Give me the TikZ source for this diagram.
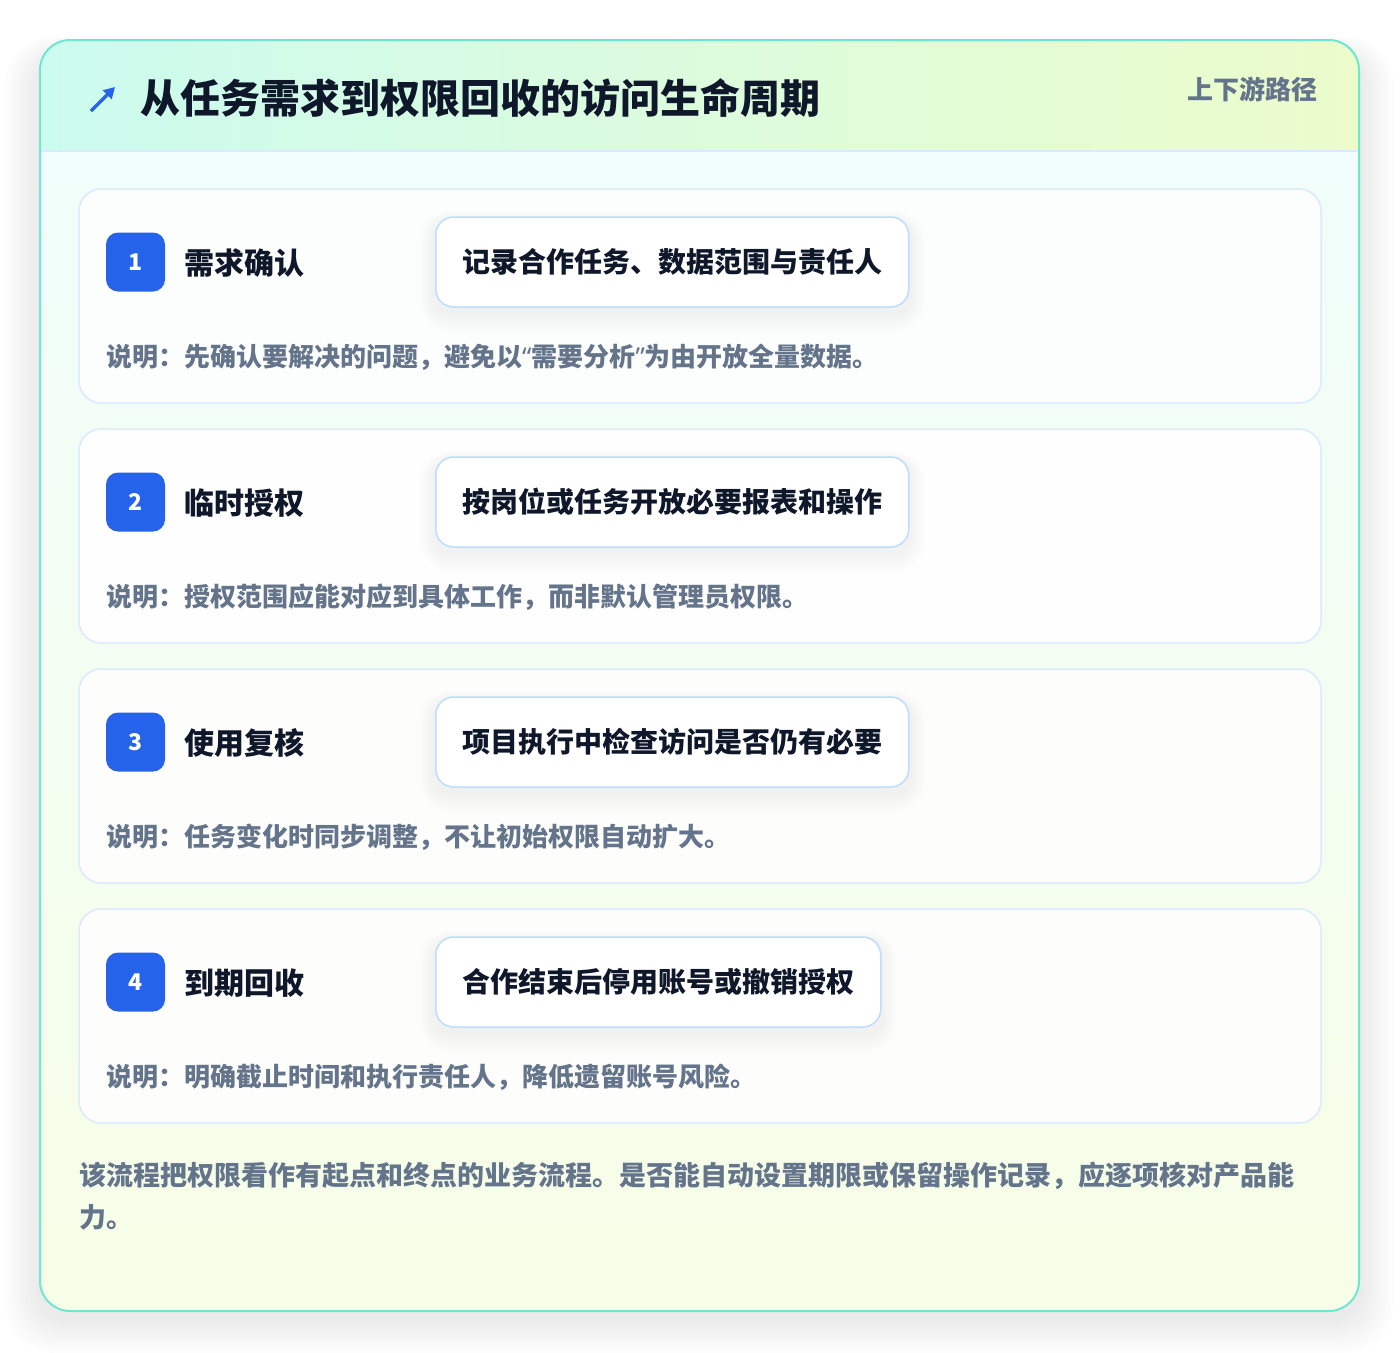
\documentclass[tikz,border=0pt]{standalone}
\usepackage{fontspec}
\setmainfont{Noto Sans CJK SC}
\newfontfamily\quotefont{Noto Sans}
\usetikzlibrary{positioning,arrows.meta}

\definecolor{ink}{HTML}{0F172A}
\definecolor{slate}{HTML}{64748B}
\definecolor{badgeblue}{HTML}{2563EB}
\definecolor{cardline}{HTML}{DBEAFE}
\definecolor{boxline}{HTML}{BFDBFE}
\definecolor{frameteal}{HTML}{6EE7D2}
\definecolor{headleft}{HTML}{CCFBEF}
\definecolor{headright}{HTML}{ECFCCB}
\definecolor{bodytop}{HTML}{F0FDFA}
\definecolor{bodybottom}{HTML}{F7FEE7}

\pgfdeclarelayer{frame}
\pgfdeclarelayer{shadow}
\pgfsetlayers{frame,shadow,main}

\tikzset{
  stepcard/.style={draw=cardline, line width=1.5pt, fill=white, fill opacity=0.85,
                   rounded corners=22pt},
  badge/.style={fill=badgeblue, rounded corners=12pt, minimum width=59pt,
                minimum height=59pt, inner sep=0pt, text=white,
                font=\bfseries\fontsize{23}{23}\selectfont},
  steptitle/.style={anchor=west, inner sep=0pt, text=ink,
                    font=\bfseries\fontsize{30}{30}\selectfont},
  actionbox/.style={draw=boxline, line width=1.5pt, fill=white, rounded corners=18pt,
                    minimum height=90pt, inner xsep=26.5pt, inner ysep=0pt, anchor=west,
                    text=ink, font=\bfseries\fontsize{28}{28}\selectfont},
  notetext/.style={anchor=west, inner sep=0pt, text=slate,
                   font=\bfseries\fontsize{26}{26}\selectfont},
}
\newcommand{\openq}{{\quotefont\bfseries “}}
\newcommand{\closeq}{{\quotefont\bfseries ”}}

\begin{document}
\begin{tikzpicture}[x=1pt, y=-1pt]
  \useasboundingbox (0,0) rectangle (1400,1352);

  \begin{pgfonlayer}{frame}
    \fill[white] (0,0) rectangle (1400,1352);
    % soft shadow under the frame
    \foreach \s in {1,...,10}
      \fill[black, opacity=0.008, rounded corners=30pt+\s*2pt]
        (40-\s*3.5, 56-\s*2) rectangle (1359+\s*3.5, 1318+\s*3.5);

    % frame with header band
    \begin{scope}
      \clip[rounded corners=30pt] (40,40) rectangle (1359,1311);
      \shade[top color=bodytop, bottom color=bodybottom] (40,151) rectangle (1359,1311);
      \shade[left color=headleft, right color=headright] (40,40) rectangle (1359,151);
      \draw[cardline, line width=2pt] (40,151) -- (1359,151);
    \end{scope}
    \draw[frameteal, line width=2pt, rounded corners=30pt] (40,40) rectangle (1359,1311);
  \end{pgfonlayer}

  % header
  \coordinate (arrowtail) at (91,111);
  \coordinate (arrowhead) at (115,87);
  \draw[badgeblue, line width=3.5pt, -{Triangle[length=11pt, width=12pt]}]
    (arrowtail) -- (arrowhead);
  \node[anchor=west, inner sep=0pt, text=ink, font=\bfseries\fontsize{40}{40}\selectfont]
    (title) at (140,98) {从任务需求到权限回收的访问生命周期};
  \node[anchor=east, inner sep=0pt, text=slate, font=\bfseries\fontsize{26}{26}\selectfont]
    (tag) at (1318,89) {上下游路径};

  % steps
  \foreach \i/\name/\action/\note in {
      1/{需求确认}/{记录合作任务、数据范围与责任人}/{说明：先确认要解决的问题，避免以\openq 需要分析\closeq 为由开放全量数据。},
      2/{临时授权}/{按岗位或任务开放必要报表和操作}/{说明：授权范围应能对应到具体工作，而非默认管理员权限。},
      3/{使用复核}/{项目执行中检查访问是否仍有必要}/{说明：任务变化时同步调整，不让初始权限自动扩大。},
      4/{到期回收}/{合作结束后停用账号或撤销授权}/{说明：明确截止时间和执行责任人，降低遗留账号风险。}} {
    \pgfmathsetmacro{\top}{189+(\i-1)*240}
    \begin{pgfonlayer}{frame}
      \draw[stepcard] (79,\top) rectangle (1321,\top+214);
    \end{pgfonlayer}
    \node[badge] (badge\i) at (135.5,\top+73) {\i};
    \node[steptitle] (name\i) at (184,\top+74) {\name};
    \node[actionbox] (action\i) at (435,\top+73) {\action};
    % shadow of the action box
    \begin{pgfonlayer}{shadow}
      \foreach \s in {1,...,6}
        \fill[black, opacity=0.007, rounded corners=18pt+\s*2pt]
          ([xshift=-\s*2.5pt, yshift=\s*1.5pt-4pt]action\i.north west)
          rectangle ([xshift=\s*2.5pt, yshift=-\s*3pt-6pt]action\i.south east);
    \end{pgfonlayer}
    \node[notetext] (note\i) at (106,\top+168) {\note};
  }

  % closing remark
  \node[anchor=west, inner sep=0pt, align=left, text=slate,
        font=\bfseries\fontsize{27}{42}\selectfont] (remark) at (79,1196)
    {该流程把权限看作有起点和终点的业务流程。是否能自动设置期限或保留操作记录，应逐项核对产品能\\力。};
\end{tikzpicture}
\end{document}
